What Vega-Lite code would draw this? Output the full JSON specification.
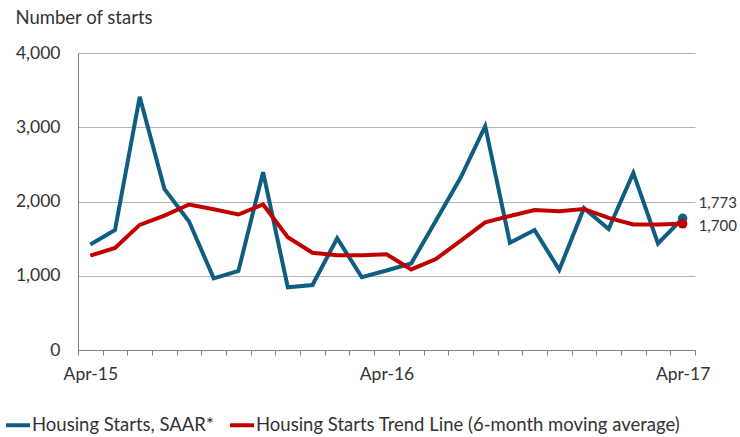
{
  "$schema": "https://vega.github.io/schema/vega-lite/v6.json",
  "width": 617,
  "height": 297,
  "autosize": {"type": "none"},
  "padding": {"left": 78, "top": 53, "right": 45, "bottom": 87},
  "background": "white",
  "config": {
    "font": "Lato",
    "view": {"stroke": null}
  },
  "data": {
    "values": [
      {"month": "Apr-15", "series": "Housing Starts, SAAR*", "value": 1420},
      {"month": "May-15", "series": "Housing Starts, SAAR*", "value": 1615},
      {"month": "Jun-15", "series": "Housing Starts, SAAR*", "value": 3410},
      {"month": "Jul-15", "series": "Housing Starts, SAAR*", "value": 2170},
      {"month": "Aug-15", "series": "Housing Starts, SAAR*", "value": 1730},
      {"month": "Sep-15", "series": "Housing Starts, SAAR*", "value": 965},
      {"month": "Oct-15", "series": "Housing Starts, SAAR*", "value": 1065},
      {"month": "Nov-15", "series": "Housing Starts, SAAR*", "value": 2395},
      {"month": "Dec-15", "series": "Housing Starts, SAAR*", "value": 845},
      {"month": "Jan-16", "series": "Housing Starts, SAAR*", "value": 875},
      {"month": "Feb-16", "series": "Housing Starts, SAAR*", "value": 1505},
      {"month": "Mar-16", "series": "Housing Starts, SAAR*", "value": 980},
      {"month": "Apr-16", "series": "Housing Starts, SAAR*", "value": 1070},
      {"month": "May-16", "series": "Housing Starts, SAAR*", "value": 1165},
      {"month": "Jun-16", "series": "Housing Starts, SAAR*", "value": 1740},
      {"month": "Jul-16", "series": "Housing Starts, SAAR*", "value": 2320},
      {"month": "Aug-16", "series": "Housing Starts, SAAR*", "value": 3015},
      {"month": "Sep-16", "series": "Housing Starts, SAAR*", "value": 1445},
      {"month": "Oct-16", "series": "Housing Starts, SAAR*", "value": 1615},
      {"month": "Nov-16", "series": "Housing Starts, SAAR*", "value": 1080},
      {"month": "Dec-16", "series": "Housing Starts, SAAR*", "value": 1910},
      {"month": "Jan-17", "series": "Housing Starts, SAAR*", "value": 1630},
      {"month": "Feb-17", "series": "Housing Starts, SAAR*", "value": 2385},
      {"month": "Mar-17", "series": "Housing Starts, SAAR*", "value": 1435},
      {"month": "Apr-17", "series": "Housing Starts, SAAR*", "value": 1773},
      {"month": "Apr-15", "series": "Housing Starts Trend Line (6-month moving average)", "value": 1270},
      {"month": "May-15", "series": "Housing Starts Trend Line (6-month moving average)", "value": 1375},
      {"month": "Jun-15", "series": "Housing Starts Trend Line (6-month moving average)", "value": 1685},
      {"month": "Jul-15", "series": "Housing Starts Trend Line (6-month moving average)", "value": 1810},
      {"month": "Aug-15", "series": "Housing Starts Trend Line (6-month moving average)", "value": 1960},
      {"month": "Sep-15", "series": "Housing Starts Trend Line (6-month moving average)", "value": 1895},
      {"month": "Oct-15", "series": "Housing Starts Trend Line (6-month moving average)", "value": 1825},
      {"month": "Nov-15", "series": "Housing Starts Trend Line (6-month moving average)", "value": 1960},
      {"month": "Dec-15", "series": "Housing Starts Trend Line (6-month moving average)", "value": 1520},
      {"month": "Jan-16", "series": "Housing Starts Trend Line (6-month moving average)", "value": 1310},
      {"month": "Feb-16", "series": "Housing Starts Trend Line (6-month moving average)", "value": 1275},
      {"month": "Mar-16", "series": "Housing Starts Trend Line (6-month moving average)", "value": 1275},
      {"month": "Apr-16", "series": "Housing Starts Trend Line (6-month moving average)", "value": 1290},
      {"month": "May-16", "series": "Housing Starts Trend Line (6-month moving average)", "value": 1085},
      {"month": "Jun-16", "series": "Housing Starts Trend Line (6-month moving average)", "value": 1225},
      {"month": "Jul-16", "series": "Housing Starts Trend Line (6-month moving average)", "value": 1470},
      {"month": "Aug-16", "series": "Housing Starts Trend Line (6-month moving average)", "value": 1720},
      {"month": "Sep-16", "series": "Housing Starts Trend Line (6-month moving average)", "value": 1805},
      {"month": "Oct-16", "series": "Housing Starts Trend Line (6-month moving average)", "value": 1885},
      {"month": "Nov-16", "series": "Housing Starts Trend Line (6-month moving average)", "value": 1870},
      {"month": "Dec-16", "series": "Housing Starts Trend Line (6-month moving average)", "value": 1900},
      {"month": "Jan-17", "series": "Housing Starts Trend Line (6-month moving average)", "value": 1780},
      {"month": "Feb-17", "series": "Housing Starts Trend Line (6-month moving average)", "value": 1690},
      {"month": "Mar-17", "series": "Housing Starts Trend Line (6-month moving average)", "value": 1690},
      {"month": "Apr-17", "series": "Housing Starts Trend Line (6-month moving average)", "value": 1700}
    ]
  },
  "encoding": {
    "x": {
      "field": "month",
      "type": "ordinal",
      "sort": ["Apr-15","May-15","Jun-15","Jul-15","Aug-15","Sep-15","Oct-15","Nov-15","Dec-15","Jan-16","Feb-16","Mar-16","Apr-16","May-16","Jun-16","Jul-16","Aug-16","Sep-16","Oct-16","Nov-16","Dec-16","Jan-17","Feb-17","Mar-17","Apr-17"],
      "scale": {"type": "band", "paddingInner": 0, "paddingOuter": 0},
      "bandPosition": 0.5,
      "axis": {
        "title": null,
        "labelAngle": 0,
        "tickBand": "extent",
        "tickSize": 5,
        "tickColor": "#808080",
        "domainColor": "#808080",
        "grid": false,
        "labelExpr": "indexof(['Apr-15','Apr-16','Apr-17'], datum.value) >= 0 ? datum.value : ''",
        "labelFontSize": 17.5,
        "labelColor": "#333333",
        "labelPadding": 10,
        "labelBaseline": "top",
        "labelOverlap": false,
        "labelFlush": false
      }
    },
    "y": {
      "field": "value",
      "type": "quantitative",
      "scale": {"domain": [0, 4000]},
      "axis": {
        "values": [0, 1000, 2000, 3000, 4000],
        "format": ",.0f",
        "title": "Number of starts",
        "titleAngle": 0,
        "titleAlign": "left",
        "titleBaseline": "alphabetic",
        "titleX": -63,
        "titleY": -30,
        "titleFontSize": 18.5,
        "titleFontWeight": "normal",
        "titleColor": "#333333",
        "labelFontSize": 17.5,
        "labelColor": "#333333",
        "ticks": false,
        "tickSize": 0,
        "labelPadding": 18,
        "domainColor": "#808080",
        "grid": true,
        "gridColor": "#b3b3b3"
      }
    }
  },
  "layer": [
    {
      "mark": {"type": "line", "strokeWidth": 4},
      "encoding": {
        "color": {
          "field": "series",
          "type": "nominal",
          "scale": {
            "domain": ["Housing Starts, SAAR*", "Housing Starts Trend Line (6-month moving average)"],
            "range": ["#0f5d80", "#c00000"]
          },
          "legend": {
            "title": null,
            "orient": "none",
            "direction": "horizontal",
            "legendX": -74,
            "legendY": 358,
            "symbolType": "stroke",
            "symbolSize": 576,
            "symbolStrokeWidth": 4,
            "labelFontSize": 18.5,
            "labelColor": "#333333",
            "labelOffset": 0,
            "labelLimit": 0,
            "columnPadding": 8
          }
        }
      }
    },
    {
      "transform": [{"filter": "datum.month === 'Apr-17'"}],
      "mark": {"type": "circle", "size": 90, "opacity": 1},
      "encoding": {
        "fill": {
          "field": "series",
          "type": "nominal",
          "scale": {
            "domain": ["Housing Starts, SAAR*", "Housing Starts Trend Line (6-month moving average)"],
            "range": ["#0f5d80", "#c00000"]
          },
          "legend": null
        }
      }
    },
    {
      "transform": [{"filter": "datum.month === 'Apr-17' && datum.series === 'Housing Starts, SAAR*'"}],
      "mark": {"type": "text", "align": "left", "baseline": "middle", "dx": 16, "dy": -15, "fontSize": 15, "color": "#333333"},
      "encoding": {"text": {"field": "value", "type": "quantitative", "format": ",.0f"}}
    },
    {
      "transform": [{"filter": "datum.month === 'Apr-17' && datum.series !== 'Housing Starts, SAAR*'"}],
      "mark": {"type": "text", "align": "left", "baseline": "middle", "dx": 16, "dy": 2, "fontSize": 15, "color": "#333333"},
      "encoding": {"text": {"field": "value", "type": "quantitative", "format": ",.0f"}}
    }
  ]
}
